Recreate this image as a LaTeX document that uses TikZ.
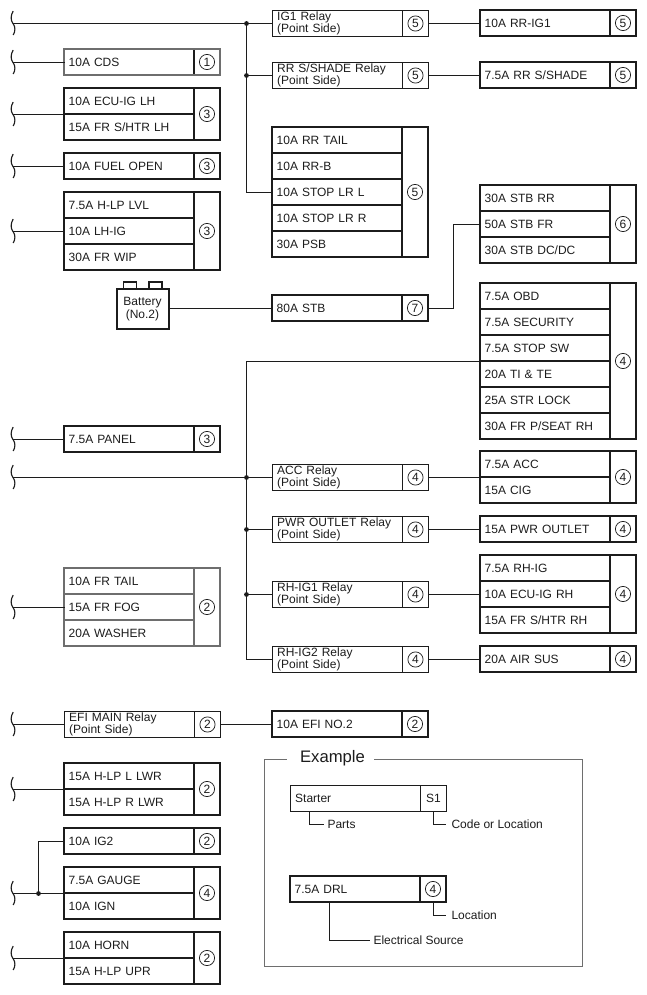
\documentclass[tikz,border=0pt]{standalone}
\usepackage{fontspec}
\setmainfont{Liberation Sans}
\definecolor{ink}{HTML}{1C1C1C}
\definecolor{midgrey}{HTML}{6E6E6E}
\tikzset{
  x=0.75pt,y=-0.75pt,
  every node/.style={text=ink,font=\fontsize{9}{8.25}\selectfont,inner sep=0pt,outer sep=0pt},
  wire/.style={draw=ink,line width=0.85pt},
  leader/.style={draw=ink,line width=0.75pt},
  jdot/.style={circle,fill=ink,minimum size=3.6pt},
  nudge/.style={xshift=-0.375pt,yshift=0.375pt},
  cellbase/.style={rectangle,align=left,text width=90.5pt,minimum width=97.5pt,minimum height=19.5pt},
  numbase/.style={rectangle,minimum width=19.5pt},
  outerbase/.style={rectangle,minimum width=117pt},
  numcirc/.style={circle,draw=ink,line width=0.55pt,minimum size=11.4pt},
  numplain/.style={},
  heavy row/.style={cellbase,nudge,draw=ink,line width=1.5pt},
  heavy div/.style={numbase,nudge,draw=ink,line width=1.5pt},
  heavy outer/.style={outerbase,nudge,draw=ink,line width=1.5pt},
  light row/.style={cellbase,draw=ink,line width=0.75pt},
  light div/.style={numbase,draw=ink,line width=0.75pt},
  light outer/.style={outerbase,draw=ink,line width=0.75pt},
  grey row/.style={cellbase,nudge,draw=midgrey,line width=1.5pt},
  grey div/.style={numbase,nudge,draw=midgrey,line width=1.5pt},
  grey outer/.style={outerbase,nudge,draw=midgrey,line width=1.5pt},
  cds row/.style={cellbase,nudge,draw=ink,line width=1.5pt},
  cds div/.style={numbase,nudge,draw=ink,line width=1.5pt},
  cds outer/.style={outerbase,nudge,draw=midgrey,line width=1.5pt},
  framebox/.style={draw=midgrey,line width=0.75pt},
  frametitle/.style={font=\fontsize{12.5}{14}\selectfont},
  legend/.style={anchor=west},
  batbody/.style={rectangle,draw=ink,line width=1.5pt,minimum width=39pt,minimum height=30pt,align=center},
  batpost/.style={rectangle,draw=ink,line width=1.1pt,minimum width=10pt,minimum height=5.2pt},
}
% \fusegroup[circle style]{name}{kind}{x}{y}{rows}{number}{texts}
\newcommand\fusegroup[8][numcirc]{%
  \foreach \t [count=\i] in {#8} {
    \pgfmathsetmacro\cy{#5+(\i-0.5)*26}
    \pgfmathsetmacro\cx{#4+65}
    \node[#3 row] (#2-r\i) at (\cx,\cy) {\t};
  }
  \pgfmathsetmacro\hh{#6*19.5}
  \pgfmathsetmacro\my{#5+#6*13}
  \pgfmathsetmacro\nx{#4+143}
  \pgfmathsetmacro\ox{#4+78}
  \node[#3 div,minimum height=\hh pt] (#2-n) at (\nx,\my) {};
  \node[#3 outer,minimum height=\hh pt] (#2-b) at (\ox,\my) {};
  \node[outerbase,minimum height=\hh pt] (#2) at (\ox,\my) {};
  \node[#1] (#2-c) at (#2-n.center) {#7};
}
\newcommand\wavemark[2]{%
  \coordinate (#1) at (12.5,#2);
  \draw[wire,shift={(0,#2)}] (12.7,-12.5) .. controls (10,-8) and (10,-3) .. (12.5,0)
     .. controls (15,3) and (15,8) .. (12.7,11.5);
}
\begin{document}
\begin{tikzpicture}
\useasboundingbox (-0.5,-0.5) rectangle (645.5,994.5);
% left column
\fusegroup{cds}{cds}{64}{49}{1}{1}{10A CDS}
\fusegroup{ecu}{heavy}{64}{88}{2}{3}{10A ECU-IG LH,15A FR S/HTR LH}
\fusegroup{fuel}{heavy}{64}{153}{1}{3}{10A FUEL OPEN}
\fusegroup{hlp}{heavy}{64}{192}{3}{3}{7.5A H-LP LVL,10A LH-IG,30A FR WIP}
\fusegroup{panel}{heavy}{64}{426}{1}{3}{7.5A PANEL}
\fusegroup{frt}{grey}{64}{568}{3}{2}{10A FR TAIL,15A FR FOG,20A WASHER}
\fusegroup{efi}{light}{64}{711}{1}{2}{{EFI MAIN Relay\\(Point Side)}}
\fusegroup{lwr}{heavy}{64}{763}{2}{2}{15A H-LP L LWR,15A H-LP R LWR}
\fusegroup{igtwo}{heavy}{64}{828}{1}{2}{10A IG2}
\fusegroup{gauge}{heavy}{64}{867}{2}{4}{7.5A GAUGE,10A IGN}
\fusegroup{horn}{heavy}{64}{932}{2}{2}{10A HORN,15A H-LP UPR}
% middle column
\fusegroup{igone}{light}{272}{10}{1}{5}{{IG1 Relay\\(Point Side)}}
\fusegroup{shade}{light}{272}{62}{1}{5}{{RR S/SHADE Relay\\(Point Side)}}
\fusegroup{tail}{heavy}{272}{127}{5}{5}{10A RR TAIL,10A RR-B,10A STOP LR L,10A STOP LR R,30A PSB}
\fusegroup{stb}{heavy}{272}{295}{1}{7}{80A STB}
\fusegroup{acc}{light}{272}{464}{1}{4}{{ACC Relay\\(Point Side)}}
\fusegroup{pwr}{light}{272}{516}{1}{4}{{PWR OUTLET Relay\\(Point Side)}}
\fusegroup{rhone}{light}{272}{581}{1}{4}{{RH-IG1 Relay\\(Point Side)}}
\fusegroup{rhtwo}{light}{272}{646}{1}{4}{{RH-IG2 Relay\\(Point Side)}}
\fusegroup{efitwo}{heavy}{272}{711}{1}{2}{10A EFI NO.2}
% right column
\fusegroup{rrig}{heavy}{480}{10}{1}{5}{10A RR-IG1}
\fusegroup{rrs}{heavy}{480}{62}{1}{5}{7.5A RR S/SHADE}
\fusegroup{stbs}{heavy}{480}{185}{3}{6}{30A STB RR,50A STB FR,30A STB DC/DC}
\fusegroup{obd}{heavy}{480}{283}{6}{4}{7.5A OBD,7.5A SECURITY,7.5A STOP SW,20A TI \& TE,25A STR LOCK,30A FR P/SEAT RH}
\fusegroup{accs}{heavy}{480}{451}{2}{4}{7.5A ACC,15A CIG}
\fusegroup{pout}{heavy}{480}{516}{1}{4}{15A PWR OUTLET}
\fusegroup{rhig}{heavy}{480}{555}{3}{4}{7.5A RH-IG,10A ECU-IG RH,15A FR S/HTR RH}
\fusegroup{air}{heavy}{480}{646}{1}{4}{20A AIR SUS}
% battery
\node[batbody] (bat) at (142,308.5) {Battery\\(No.2)};
\node[batpost,anchor=south] (postl) at (129.5,288.5) {};
\node[batpost,anchor=south] (postr) at (155,288.5) {};
% breaks
\wavemark{wa}{23}
\wavemark{wb}{62}
\wavemark{wc}{114}
\wavemark{wd}{166}
\wavemark{we}{231}
\wavemark{wf}{439}
\wavemark{wg}{477}
\wavemark{wh}{607}
\wavemark{wi}{724}
\wavemark{wj}{789}
\wavemark{wk}{893}
\wavemark{wl}{958}
% junctions
\node[jdot] (ja) at (246,23) {};
\node[jdot] (jb) at (246,75) {};
\node[jdot] (jc) at (246,477) {};
\node[jdot] (jd) at (246,529) {};
\node[jdot] (je) at (246,594) {};
\node[jdot] (jf) at (38,893) {};
% connectors
\draw[wire] (wa) -- (ja) -- (igone.west);
\draw[wire] (ja) -- (jb) -- (shade.west);
\draw[wire] (jb) |- (tail.west);
\draw[wire] (wb) -- (cds.west);
\draw[wire] (wc) -- (ecu.west);
\draw[wire] (wd) -- (fuel.west);
\draw[wire] (we) -- (hlp.west);
\draw[wire] (wf) -- (panel.west);
\draw[wire] (wg) -- (jc) -- (acc.west);
\draw[wire] (jc) |- (obd.west);
\draw[wire] (jc) -- (jd) -- (pwr.west);
\draw[wire] (jd) -- (je) -- (rhone.west);
\draw[wire] (je) |- (rhtwo.west);
\draw[wire] (wh) -- (frt.west);
\draw[wire] (wi) -- (efi.west);
\draw[wire] (efi.east) -- (efitwo.west);
\draw[wire] (wj) -- (lwr.west);
\draw[wire] (wk) -- (jf) -- (gauge.west);
\draw[wire] (jf) |- (igtwo.west);
\draw[wire] (wl) -- (horn.west);
\draw[wire] (bat.east |- stb.west) -- (stb.west);
\draw[wire] (igone.east) -- (rrig.west);
\draw[wire] (shade.east) -- (rrs.west);
\draw[wire] (stb.east) -- ++(25,0) |- (stbs.west);
\draw[wire] (acc.east) -- (accs.west);
\draw[wire] (pwr.east) -- (pout.west);
\draw[wire] (rhone.east) -- (rhig.west);
\draw[wire] (rhtwo.east) -- (air.west);
% example
\draw[framebox] (286,759) -- (264,759) -- (264,966) -- (582,966) -- (582,759) -- (373,759);
\node[frametitle] (extitle) at (332,757.5) {Example};
\fusegroup[numplain]{starter}{light}{290}{785}{1}{S1}{Starter}
\fusegroup{drl}{heavy}{290}{876}{1}{4}{7.5A DRL}
\node[legend] (parts) at (327,824) {Parts};
\node[legend] (code) at (451,824) {Code or Location};
\node[legend] (loc) at (451,915) {Location};
\node[legend] (src) at (373,940) {Electrical Source};
\draw[leader] (starter-r1.south west) ++(19,0) |- ([xshift=-3pt]parts.west);
\draw[leader] (starter-n.south) |- ([xshift=-4.5pt]code.west);
\draw[leader] (drl |- drl.south) ++(-39,0) |- ([xshift=-3pt]src.west);
\draw[leader] (drl-n.south) |- ([xshift=-4.5pt]loc.west);
\end{tikzpicture}
\end{document}
